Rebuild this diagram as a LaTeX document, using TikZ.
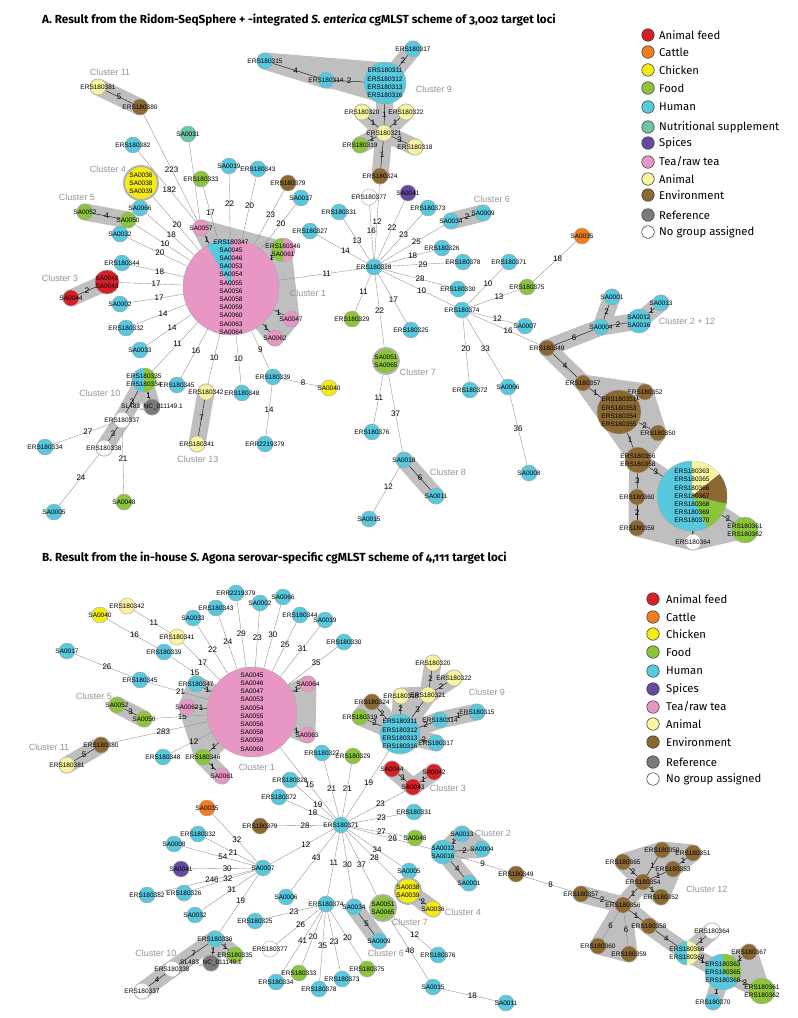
\documentclass[tikz,border=0pt]{standalone}
\usepackage{fontspec}
\setmainfont{Liberation Sans}
\newfontfamily\figfont{Fira Sans}[Numbers=OldStyle]
\usetikzlibrary{backgrounds}

\definecolor{cfeed}{RGB}{214,32,39}
\definecolor{ccattle}{RGB}{240,125,30}
\definecolor{cchick}{RGB}{244,234,20}
\definecolor{cfood}{RGB}{140,196,60}
\definecolor{chuman}{RGB}{88,200,222}
\definecolor{cnutri}{RGB}{110,196,166}
\definecolor{cspice}{RGB}{100,74,160}
\definecolor{ctea}{RGB}{232,150,196}
\definecolor{canimal}{RGB}{250,244,160}
\definecolor{cenv}{RGB}{140,104,50}
\definecolor{cref}{RGB}{122,122,122}

% slice of a pie node: x, y, radius, from, to, colour (angles run clockwise)
\newcommand\pieslice[6]{\fill[#6] (#1,#2) -- plot[domain=#4:#5,samples=24] ({#1+#3*cos(\x)},{#2+#3*sin(\x)}) -- cycle;}

\begin{document}
\begin{tikzpicture}[x=1pt,y=-1pt,
  smp/.style={circle,draw=black!35,line width=0.4pt,minimum size=16pt,inner sep=0pt},
  ring/.style={draw=black!30,line width=2pt},
  stxt/.style={font=\fontsize{6.5}{8.2}\selectfont,align=center,inner sep=0pt},
  edge/.style={draw=black!45,line width=0.35pt},
  tie/.style={draw=black!85,line width=0.5pt},
  elbl/.style={font=\fontsize{8}{8}\selectfont,inner sep=0.5pt},
  hull/.style={draw=black!25,line width=17pt,line cap=round,line join=round},
  clab/.style={font=\fontsize{9}{9}\selectfont,text=black!42},
  legdot/.style={circle,draw=black!75,line width=0.6pt,minimum size=12.5pt,inner sep=0pt},
  legtxt/.style={font=\figfont\fontsize{11.3}{12}\selectfont,anchor=west,inner sep=0pt},
  ttl/.style={font=\figfont\bfseries\fontsize{11.7}{14}\selectfont,anchor=west,inner sep=0pt}]
\path[use as bounding box] (0,0) rectangle (798,1018);

% ---------------- A ----------------
\node[ttl] (ttlA) at (42,20) {A. Result from the Ridom-SeqSphere + -integrated \textit{S. enterica} cgMLST scheme of 3,002 target loci};

\foreach \n/\x/\y/\c in {ERS180315/265/61/chuman, ERS180314/326/80/chuman, ERS180317/413/49/chuman,
  ERS180320/362/112/canimal, ERS180322/406/112/canimal, ERS180321/384/133/canimal, ERS180319/360/145/cfood,
  ERS180318/415/147/canimal, ERS180324/380/176/cenv, ERS180377/369/197/white, SA0041/408/193/cspice,
  ERS180373/428/208/chuman, SA0034/451/221/chuman, SA0009/483/213/chuman, ERS180331/339/212/chuman,
  ERS180327/310/231/chuman, ERS180326/442/248/chuman, ERS180328/374/267/chuman, ERS180378/463/262/chuman,
  ERS180371/509/262/chuman, ERS180330/458/289/chuman, ERS180374/462/310/chuman, ERS180375/527/287/cfood,
  SA0035/582/236/ccattle, SA0007/525/326/chuman, ERS180349/547/348/cenv, ERS180329/352/319/cfood,
  ERS180325/411/330/chuman, ERS180372/470/390/chuman, SA0006/508/387/chuman, SA0008/529/473/chuman,
  ERS180376/372/432/chuman, SA0018/404/460/chuman, SA0011/436/496/chuman, SA0015/369/519/chuman,
  SA0001/612/297/chuman, SA0013/661/303/chuman, SA0004/601/327/chuman, ERS180357/583/383/cenv,
  ERS180352/645/392/cenv, ERS180350/658/433/cenv, ERS180360/637/497/cenv, ERS180359/637/528/cenv,
  ERS180364/693/542/white, ERS180381/98/87/canimal, ERS180380/140/107/cenv, SA0031/188/134/cnutri,
  ERS180382/133/145/chuman, SA0019/229/166/chuman, ERS180343/258/169/chuman, ERS180333/201/179/cfood,
  ERS180379/288/183/cenv, SA0017/301/198/chuman, SA0052/85/212/cfood, SA0050/128/220/cfood,
  SA0066/140/208/chuman, SA0032/120/234/chuman, SA0057/201/228/ctea, SA0047/291/319/ctea,
  SA0062/275/338/ctea, ERS180344/122/263/chuman, SA0044/71/298/cfeed, SA0002/120/304/chuman,
  ERS180332/126/328/chuman, SA0033/140/350/chuman, ERS180345/177/385/chuman, ERS180337/122/420/white,
  ERS180338/104/448/white, ERS180334/45/447/chuman, SA0048/124/502/cfood, SA0005/54/512/chuman,
  ERS180342/206/392/canimal, ERS180341/197/444/canimal, ERS180348/242/393/chuman,
  ERS180339/273/377/chuman, ERR2219379/265/444/chuman, SA0040/329/388/cchick}
  {\node[smp,fill=\c] (a\n) at (\x,\y) {}; \node[stxt] at (a\n) {\n};}

\node[smp,fill=chuman,minimum size=42pt] (aC9) at (385,83) {};
\node[stxt] at (aC9) {ERS180311\\ERS180312\\ERS180313\\ERS180316};
\node[smp,ring,fill=cfood,minimum size=26pt] (aC7) at (386,361) {};
\node[stxt] at (aC7) {SA0051\\SA0065};
\node[smp,fill=chuman,minimum size=24pt] (aSA0012) at (639,321) {};
\node[stxt] at (aSA0012) {SA0012\\SA0016};
\node[smp,fill=cenv,minimum size=44pt] (aC12) at (619,412) {};
\node[stxt] at (aC12) {ERS180351\\ERS180353\\ERS180354\\ERS180355};
\node[smp,fill=cenv,minimum size=26pt] (aERS180356) at (638,460) {};
\node[stxt] at (aERS180356) {ERS180356\\ERS180358};
\node[smp,fill=chuman,minimum size=70pt] (aPie2) at (692,496) {};
\pieslice{692}{496}{35}{-90}{-38.6}{canimal}
\pieslice{692}{496}{35}{-38.6}{12.9}{cenv}
\pieslice{692}{496}{35}{12.9}{64.3}{cfood}
\node[stxt] at (aPie2) {ERS180363\\ERS180365\\ERS180366\\ERS180367\\ERS180368\\ERS180369\\ERS180370};
\node[smp,fill=cfood,minimum size=26pt] (aERS180361) at (745,530) {};
\node[stxt] at (aERS180361) {ERS180361\\ERS180362};
\node[smp,ring,fill=cchick,minimum size=34pt] (aSA0036) at (141,183) {};
\node[stxt] at (aSA0036) {SA0036\\SA0038\\SA0039};
\node[smp,fill=ctea,minimum size=96pt] (aPie1) at (231,287) {};
\pieslice{231}{287}{48}{-120}{-90}{chuman}
\node[stxt] at (aPie1) {ERS180347\\SA0045\\SA0046\\SA0053\\SA0054\\SA0055\\SA0056\\SA0058\\SA0059\\SA0060\\SA0063\\SA0064};
\node[smp,fill=cfood,minimum size=24pt] (aERS180346) at (283,250) {};
\pieslice{283}{250}{12}{-90}{90}{ctea}
\node[stxt] at (aERS180346) {ERS180346\\SA0061};
\node[smp,fill=cfeed,minimum size=24pt] (aSA0042) at (107,282) {};
\node[stxt] at (aSA0042) {SA0042\\SA0043};
\node[smp,fill=chuman,minimum size=24pt] (aERS180335) at (144,380) {};
\pieslice{144}{380}{12}{-90}{90}{cfood}
\node[stxt] at (aERS180335) {ERS180335\\ERS180334};
\node[smp,fill=cref] (aSL483) at (152,407) {};
\node[stxt] at (aSL483) {SL483\_NC\_011149.1};

\node[clab] at (110,72) {Cluster 11};
\node[clab] at (108,169) {Cluster 4};
\node[clab] at (77,197) {Cluster 5};
\node[clab] at (60,278) {Cluster 3};
\node[clab] at (100,393) {Cluster 10};
\node[clab] at (198,459) {Cluster 13};
\node[clab] at (308,293) {Cluster 1};
\node[clab] at (434,89) {Cluster 9};
\node[clab] at (492,199) {Cluster 6};
\node[clab] at (418,372) {Cluster 7};
\node[clab] at (448,472) {Cluster 8};
\node[clab] at (687,321) {Cluster 2 + 12};

\foreach \t/\c/\y in {Animal feed/cfeed/35, Cattle/ccattle/52, Chicken/cchick/70, Food/cfood/88,
  Human/chuman/107, Nutritional supplement/cnutri/127, Spices/cspice/143, {Tea/raw tea}/ctea/162,
  Animal/canimal/179, Environment/cenv/195, Reference/cref/215, No group assigned/white/232}
  {\node[legdot,fill=\c] (lega\y) at (648,\y) {}; \node[legtxt] at (659,\y) {\t};}

% ---------------- B ----------------
\node[ttl] (ttlB) at (42,558) {B. Result from the in-house \textit{S.} Agona serovar-specific cgMLST scheme of 4,111 target loci};

\foreach \n/\x/\y/\c in {ERR2219379/236/593/chuman, SA0066/283/597/chuman, SA0002/260/603/chuman,
  ERS180343/216/608/chuman, ERS180342/127/606/canimal, SA0040/100/615/cchick, SA0033/193/618/chuman,
  ERS180341/177/637/canimal, ERS180339/164/652/chuman, SA0017/67/651/chuman, ERS180345/140/680/chuman,
  ERS180347/196/684/chuman, SA0052/117/705/cfood, SA0050/144/719/cfood, SA0062/187/707/ctea,
  ERS180380/101/745/cenv, ERS180381/67/765/canimal, ERS180348/163/757/chuman, ERS180346/203/757/cfood,
  SA0061/222/776/ctea, ERS180344/300/615/chuman, SA0019/325/620/chuman, ERS180330/344/642/chuman,
  SA0064/308/684/ctea, SA0063/307/735/ctea, ERS180327/322/753/chuman, ERS180329/353/756/cfood,
  ERS180320/433/663/canimal, ERS180322/454/678/canimal, ERS180318/401/696/canimal,
  ERS180321/428/695/canimal, ERS180324/372/702/cenv, ERS180319/360/717/cfood, ERS180314/440/720/chuman,
  ERS180315/477/712/chuman, ERS180317/436/743/chuman, SA0044/392/769/cfeed, SA0042/434/772/cfeed,
  SA0043/413/787/cfeed, ERS180328/290/780/chuman, ERS180372/279/797/chuman, ERS180371/341/825/chuman,
  ERS180331/414/812/chuman, SA0048/415/838/cfood, SA0013/462/834/chuman, SA0004/482/849/chuman,
  SA0001/469/883/chuman, ERS180349/516/874/cenv, SA0005/409/871/chuman, SA0036/433/909/cchick,
  ERS180374/326/904/chuman, SA0034/354/907/chuman, SA0009/379/941/chuman, ERS180376/438/955/chuman,
  SA0015/433/987/chuman, SA0011/506/1003/chuman, ERS180333/299/973/cfood, ERS180373/342/979/chuman,
  ERS180378/319/989/chuman, ERS180375/367/969/cfood, ERS180334/276/982/chuman, SA0006/286/897/chuman,
  SA0035/207/808/ccattle, ERS180379/260/826/cenv, ERS180332/198/834/chuman, SA0008/174/844/chuman,
  SA0007/263/868/chuman, SA0041/181/869/cspice, ERS180382/147/895/chuman, ERS180326/184/893/chuman,
  SA0032/195/915/chuman, ERS180325/255/921/chuman, ERS180336/215/939/chuman, ERS180335/235/955/cfood,
  ERS180338/172/969/white, ERS180337/142/991/white, ERS180377/270/949/white, ERS180357/581/894/cenv,
  ERS180356/623/905/cenv, ERS180365/623/862/cenv, ERS180354/643/882/cenv, ERS180350/662/850/cenv,
  ERS180351/693/853/cenv, ERS180353/673/869/cenv, ERS180352/661/897/cenv, ERS180360/598/946/cenv,
  ERS180359/629/954/cenv, ERS180358/649/926/cenv, ERS180364/712/931/white, ERS180367/749/952/cenv,
  ERS180370/713/1002/chuman}
  {\node[smp,fill=\c] (b\n) at (\x,\y) {}; \node[stxt] at (b\n) {\n};}

\node[smp,fill=ctea,minimum size=90pt] (bPie1) at (252,712) {};
\node[stxt] at (bPie1) {SA0045\\SA0046\\SA0047\\SA0053\\SA0054\\SA0055\\SA0056\\SA0058\\SA0059\\SA0060};
\node[smp,fill=chuman,minimum size=40pt] (bC9) at (400,734) {};
\node[stxt] at (bC9) {ERS180311\\ERS180312\\ERS180313\\ERS180316};
\node[smp,fill=chuman,minimum size=24pt] (bSA0012) at (443,852) {};
\node[stxt] at (bSA0012) {SA0012\\SA0016};
\node[smp,ring,fill=cchick,minimum size=26pt] (bSA0038) at (408,891) {};
\node[stxt] at (bSA0038) {SA0038\\SA0039};
\node[smp,ring,fill=cfood,minimum size=26pt] (bC7) at (383,908) {};
\node[stxt] at (bC7) {SA0051\\SA0065};
\node[smp,fill=cref] (bSL483) at (211,963) {};
\node[stxt] at (bSL483) {SL483\_NC\_011149.1};
\node[smp,fill=chuman,minimum size=24pt] (bERS180366) at (687,953) {};
\pieslice{687}{953}{12}{-90}{90}{canimal}
\node[stxt] at (bERS180366) {ERS180366\\ERS180369};
\node[smp,fill=chuman,minimum size=36pt] (bC12) at (723,972) {};
\pieslice{723}{972}{18}{-90}{30}{cfood}
\node[stxt] at (bC12) {ERS180363\\ERS180365\\ERS180368};
\node[smp,fill=cfood,minimum size=26pt] (bERS180361) at (762,991) {};
\node[stxt] at (bERS180361) {ERS180361\\ERS180362};

\node[clab] at (94,696) {Cluster 5};
\node[clab] at (49,747) {Cluster 11};
\node[clab] at (257,767) {Cluster 1};
\node[clab] at (487,692) {Cluster 9};
\node[clab] at (448,788) {Cluster 3};
\node[clab] at (493,833) {Cluster 2};
\node[clab] at (463,912) {Cluster 4};
\node[clab] at (410,922) {Cluster 7};
\node[clab] at (386,953) {Cluster 6};
\node[clab] at (156,953) {Cluster 10};
\node[clab] at (707,889) {Cluster 12};

\foreach \t/\c/\y in {Animal feed/cfeed/599, Cattle/ccattle/617, Chicken/cchick/634, Food/cfood/652,
  Human/chuman/671, Spices/cspice/689, {Tea/raw tea}/ctea/707, Animal/canimal/724,
  Environment/cenv/742, Reference/cref/762, No group assigned/white/779}
  {\node[legdot,fill=\c] (legb\y) at (653,\y) {}; \node[legtxt] at (666,\y) {\t};}

% ---------------- hulls and links ----------------
\begin{scope}[on background layer]
\fill[white] (0,0) rectangle (798,1018);

% cluster hulls, A
\filldraw[hull,fill=black!25] (aSA0057.center) -- (aERS180346.center) -- (aSA0047.center) -- (aSA0062.center) -- (aPie1.center) -- cycle;
\filldraw[hull,fill=black!25] (aERS180315.center) -- ([yshift=12pt]aC9.center) -- ([yshift=-12pt]aC9.center) -- cycle;
\filldraw[hull,fill=black!25] (aERS180357.center) -- (aERS180352.center) -- (aERS180350.center) -- (aERS180356.center) -- cycle;
\filldraw[hull,fill=black!25] (aERS180356.center) -- (aPie2.center) -- (aERS180361.center) -- (aERS180364.center) -- (aERS180359.center) -- (aERS180360.center) -- cycle;
\foreach \a/\b in {ERS180381/ERS180380, SA0052/SA0050, SA0042/SA0044, ERS180335/SL483, ERS180335/ERS180337,
  ERS180337/ERS180338, ERS180342/ERS180341, SA0018/SA0011, SA0034/SA0009, ERS180315/ERS180314,
  ERS180314/C9, C9/ERS180317, C9/ERS180321, ERS180321/ERS180320, ERS180321/ERS180322,
  ERS180321/ERS180319, ERS180321/ERS180318, ERS180321/ERS180324, ERS180349/SA0004, SA0004/SA0001,
  SA0004/SA0012, SA0012/SA0013, ERS180349/ERS180357, ERS180357/C12, C12/ERS180356}
  \draw[hull] (a\a.center) -- (a\b.center);

% cluster hulls, B
\filldraw[hull,fill=black!25] (bERS180347.center) -- (bSA0062.center) -- (bERS180346.center) -- (bPie1.center) -- cycle;
\filldraw[hull,fill=black!25] (bSA0064.center) -- (bSA0063.center) -- (bPie1.center) -- cycle;
\filldraw[hull,fill=black!25] (bERS180319.center) -- (bERS180324.center) -- (bC9.center) -- cycle;
\filldraw[hull,fill=black!25] (bERS180318.center) -- (bERS180321.center) -- (bC9.center) -- cycle;
\filldraw[hull,fill=black!25] (bSA0013.center) -- (bSA0004.center) -- (bSA0012.center) -- cycle;
\filldraw[hull,fill=black!25] (bERS180365.center) -- (bERS180350.center) -- (bERS180351.center) -- (bERS180353.center) -- (bERS180352.center) -- (bERS180354.center) -- cycle;
\filldraw[hull,fill=black!25] (bERS180360.center) -- (bERS180356.center) -- (bERS180359.center) -- cycle;
\filldraw[hull,fill=black!25] (bC12.center) -- (bERS180367.center) -- (bERS180361.center) -- cycle;
\foreach \a/\b in {ERS180346/SA0061, SA0052/SA0050, ERS180380/ERS180381, C9/ERS180314, C9/ERS180317,
  ERS180321/ERS180320, ERS180321/ERS180322, ERS180314/ERS180315, SA0044/SA0043, SA0042/SA0043,
  SA0012/SA0001, SA0038/SA0036, SA0034/SA0009, ERS180336/ERS180335, ERS180336/SL483,
  ERS180336/ERS180338, ERS180338/ERS180337, ERS180357/ERS180356, ERS180356/ERS180354,
  ERS180356/ERS180358, ERS180358/ERS180366, ERS180366/ERS180364, ERS180366/C12, C12/ERS180370}
  \draw[hull] (b\a.center) -- (b\b.center);

% links, A
\foreach \a/\b/\w/\p in {ERS180380/SA0057/223/0.52, ERS180382/SA0057/182/0.54, SA0031/SA0057//0.5,
  ERS180333/Pie1/17/0.49, SA0019/Pie1/22/0.46, ERS180343/Pie1/20/0.46, ERS180379/Pie1/23/0.45,
  SA0017/Pie1/20/0.43, SA0036/Pie1/20/0.52, SA0066/Pie1/18/0.52, SA0050/Pie1/10/0.54,
  SA0032/Pie1/20/0.54, ERS180344/Pie1/18/0.55, SA0042/Pie1/17/0.58, SA0002/Pie1/17/0.56,
  ERS180332/Pie1/14/0.56, SA0033/Pie1/14/0.57, ERS180335/Pie1/11/0.55, ERS180345/Pie1/16/0.56,
  ERS180342/Pie1/10/0.53, ERS180348/Pie1/10/0.53, ERS180339/Pie1/9/0.5, ERS180328/Pie1/11/0.45,
  ERS180339/SA0040/8/0.55, ERS180339/ERR2219379/14/0.49, ERS180337/ERS180334/27/0.43,
  ERS180337/SA0048/21/0.47, ERS180338/SA0005/24/0.45, ERS180328/ERS180327/14/0.43,
  ERS180328/ERS180331/13/0.48, ERS180328/ERS180377/16/0.52, ERS180328/ERS180324/12/0.5,
  ERS180328/SA0041/22/0.54, ERS180328/ERS180373/23/0.56, ERS180328/SA0034/25/0.56,
  ERS180328/ERS180326/18/0.59, ERS180328/ERS180378/29/0.56, ERS180328/ERS180330/28/0.56,
  ERS180328/ERS180374/10/0.55, ERS180328/ERS180325/17/0.53, ERS180328/ERS180329/11/0.46,
  ERS180328/C7/22/0.49, C7/ERS180376/11/0.46, C7/SA0018/37/0.5, SA0018/SA0015/12/0.43,
  ERS180374/ERS180371/10/0.57, ERS180374/ERS180375/13/0.59, ERS180374/SA0007/12/0.58,
  ERS180374/ERS180349/16/0.55, ERS180374/ERS180372/20/0.48, ERS180374/SA0006/33/0.51,
  SA0006/SA0008/36/0.48, ERS180375/SA0035/18/0.57}
  \draw[edge] (a\a) -- node[elbl,pos=\p] {\w} (a\b);
\foreach \a/\b/\w in {SA0057/Pie1/1, ERS180346/Pie1/1, SA0047/Pie1/1, SA0062/Pie1/1,
  ERS180381/ERS180380/5, SA0052/SA0050/4, SA0042/SA0044/2, ERS180335/SL483/1, ERS180335/ERS180337/3,
  ERS180337/ERS180338/3, ERS180342/ERS180341/7, SA0018/SA0011/6, SA0034/SA0009/2,
  ERS180315/ERS180314/4, ERS180314/C9/2, C9/ERS180317/2, C9/ERS180321/1, ERS180321/ERS180320/1,
  ERS180321/ERS180322/1, ERS180321/ERS180319/1, ERS180321/ERS180318/3, ERS180321/ERS180324/1,
  ERS180349/SA0004/6, SA0004/SA0001/2, SA0004/SA0012/2, SA0012/SA0013/1, ERS180349/ERS180357/4,
  ERS180357/C12/1, C12/ERS180352/1, C12/ERS180350/2, C12/ERS180356/1, ERS180356/Pie2/3,
  ERS180356/ERS180360/3, ERS180360/ERS180359/2, Pie2/ERS180361/2, Pie2/ERS180364/1}
  \draw[tie] (a\a) -- node[elbl] {\w} (a\b);

% links, B
\foreach \a/\b/\w/\p in {ERS180341/Pie1/17/0.53, ERS180339/Pie1/15/0.55, SA0033/Pie1/22/0.5,
  ERS180343/Pie1/24/0.49, ERR2219379/Pie1/29/0.49, SA0002/Pie1/23/0.48, SA0066/Pie1/30/0.47,
  ERS180344/Pie1/25/0.46, SA0019/Pie1/31/0.44, ERS180330/Pie1/35/0.43, ERS180345/Pie1/21/0.54,
  SA0050/Pie1/15/0.55, ERS180380/Pie1/283/0.55, ERS180348/Pie1/12/0.57, Pie1/ERS180371/15/0.53,
  SA0040/ERS180339/16/0.55, ERS180342/ERS180341/11/0.55, SA0017/ERS180345/26/0.56,
  ERS180371/ERS180328/19/0.44, ERS180371/ERS180372/18/0.44, ERS180371/ERS180379/28/0.43,
  ERS180371/SA0007/12/0.44, ERS180371/SA0006/43/0.44, ERS180371/ERS180374/11/0.47,
  ERS180371/SA0034/30/0.48, ERS180371/C7/37/0.52, ERS180371/SA0038/28/0.54, ERS180371/SA0005/34/0.54,
  ERS180371/SA0012/28/0.53, ERS180371/SA0048/27/0.56, ERS180371/ERS180331/23/0.57,
  ERS180371/SA0043/23/0.56, ERS180371/C9/19/0.53, ERS180371/ERS180329/21/0.54,
  ERS180371/ERS180327/21/0.5, SA0007/SA0035/32/0.46, SA0007/ERS180332/21/0.45, SA0007/SA0008/54/0.44,
  SA0007/SA0041/30/0.42, SA0007/ERS180326/32/0.43, SA0007/ERS180382/246/0.43, SA0007/SA0032/31/0.45,
  SA0007/ERS180336/19/0.46, ERS180374/ERS180325/23/0.44, ERS180374/ERS180377/26/0.44,
  ERS180374/ERS180334/41/0.46, ERS180374/ERS180333/20/0.47, ERS180374/ERS180378/35/0.49,
  ERS180374/ERS180373/23/0.5, ERS180374/ERS180375/20/0.53, C7/ERS180376/12/0.55, C7/SA0015/48/0.51,
  SA0015/SA0011/18/0.55, SA0012/ERS180349/9/0.52, ERS180349/ERS180357/8/0.54,
  ERS180356/ERS180360/6/0.5, ERS180356/ERS180359/6/0.5}
  \draw[edge] (b\a) -- node[elbl,pos=\p] {\w} (b\b);
\foreach \a/\b/\w in {ERS180347/Pie1/1, SA0062/Pie1/1, ERS180346/Pie1/1, ERS180346/SA0061/1,
  SA0064/Pie1/1, SA0063/Pie1/1, SA0052/SA0050/3, ERS180380/ERS180381/5, C9/ERS180319/2,
  C9/ERS180324/2, C9/ERS180318/2, C9/ERS180321/3, C9/ERS180314/2, C9/ERS180317/2,
  ERS180321/ERS180320/2, ERS180321/ERS180322/2, ERS180314/ERS180315/1, SA0044/SA0043/3,
  SA0042/SA0043/1, SA0012/SA0013/1, SA0012/SA0004/2, SA0012/SA0001/4, SA0038/SA0036/2,
  SA0034/SA0009/5, ERS180336/ERS180335/1, ERS180336/SL483/1, ERS180336/ERS180338/7,
  ERS180338/ERS180337/4, ERS180357/ERS180356/2, ERS180356/ERS180354/1, ERS180354/ERS180365/2,
  ERS180354/ERS180350/1, ERS180354/ERS180353/1, ERS180353/ERS180351/1, ERS180354/ERS180352/1,
  ERS180356/ERS180358/1, ERS180358/ERS180366/4, ERS180366/ERS180364/1, ERS180366/C12/1,
  C12/ERS180367/1, C12/ERS180361/2, C12/ERS180370/1}
  \draw[tie] (b\a) -- node[elbl] {\w} (b\b);
\end{scope}
\end{tikzpicture}
\end{document}
